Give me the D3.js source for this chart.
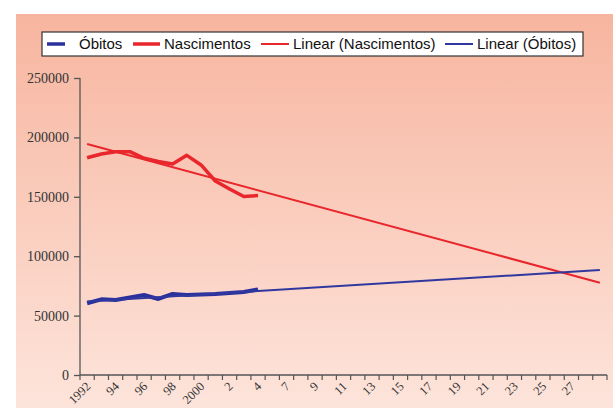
<!DOCTYPE html>
<html>
<head>
<meta charset="utf-8">
<script src="https://cdn.jsdelivr.net/npm/d3@7"></script>
<style>
  body { margin: 0; background: #fff; }
  svg { display: block; }
</style>
</head>
<body>
<svg width="613" height="408"></svg>
<script>
// categories on the x axis (the source table skips 2006)
const categories = ["1992","1993","1994","1995","1996","1997","1998","1999","2000","2001","2002","2003","2004","2005",
  "2007","2008","2009","2010","2011","2012","2013","2014","2015","2016","2017","2018","2019","2020",
  "2021","2022","2023","2024","2025","2026","2027","2028","2029"];
const tickLabels = ["1992","94","96","98","2000","2","4","7","9","11","13","15","17","19","21","23","25","27"];

const obitos = [60400, 63700, 63100, 65200, 67300, 64000, 68200, 67300, 67800, 68200, 69000, 69900, 72100];
const nascimentos = [182900, 186000, 188000, 188000, 182400, 179700, 177600, 184900, 176800, 163300, 156600, 150300, 151000];
// trend lines, start and end values
const trendNasc = [194400, 77700];
const trendObitos = [61800, 88400];

const yTicks = [0, 50000, 100000, 150000, 200000, 250000];

const svg = d3.select("svg");
const plotLeft = 80, plotRight = 607, plotTop = 78, plotBottom = 375;

const defs = svg.append("defs");
const grad = defs.append("linearGradient").attr("id", "bg").attr("x1", 0).attr("y1", 0).attr("x2", 0).attr("y2", 1);
grad.append("stop").attr("offset", "0%").attr("stop-color", "#f7b59f");
grad.append("stop").attr("offset", "100%").attr("stop-color", "#fde4db");

svg.append("rect").attr("x", 16).attr("y", 14).attr("width", 613 - 16).attr("height", 408 - 14).attr("fill", "url(#bg)");

const x = d3.scaleBand().domain(categories).range([plotLeft, plotRight]).padding(0);
const y = d3.scaleLinear().domain([0, 250000]).range([plotBottom, plotTop]);
const cx = i => x(categories[i]) + x.bandwidth() / 2;

// y axis
const yAxis = svg.append("g").attr("transform", `translate(${plotLeft},0)`)
  .call(d3.axisLeft(y).tickValues(yTicks).tickFormat(d3.format("d")).tickSize(6).tickPadding(5));
yAxis.select(".domain").attr("d", `M0,${plotTop}V${plotBottom}`);
yAxis.selectAll("line, path").attr("stroke", "#555").attr("stroke-width", 1.3);
yAxis.selectAll("text").attr("font-family", "'Liberation Serif', 'Times New Roman', serif")
  .attr("font-size", 14).attr("fill", "#333");

// x axis: ticks between categories
const xg = svg.append("g");
xg.append("line").attr("x1", plotLeft).attr("x2", plotRight).attr("y1", plotBottom).attr("y2", plotBottom)
  .attr("stroke", "#555").attr("stroke-width", 1.3);
xg.selectAll(".tk").data(d3.range(categories.length + 1)).join("line")
  .attr("x1", k => plotLeft + k * x.step()).attr("x2", k => plotLeft + k * x.step())
  .attr("y1", plotBottom).attr("y2", plotBottom + 5).attr("stroke", "#555").attr("stroke-width", 1.2);
xg.selectAll(".lb").data(tickLabels).join("text")
  .attr("transform", (d, i) => `translate(${cx(i * 2) - 2},${plotBottom + 6}) rotate(-45)`)
  .attr("text-anchor", "end").attr("dy", "0.7em")
  .attr("font-family", "'Liberation Serif', 'Times New Roman', serif")
  .attr("font-size", 12.5).attr("fill", "#333")
  .text(d => d);

const line = d3.line().x((d, i) => cx(i)).y(d => y(d));
const trendLine = (vals) => d3.line().x((d, i) => cx(i === 0 ? 0 : categories.length - 1)).y(d => y(d))(vals);

const blue = "#2b319b", red = "#e8262b";

svg.append("path").attr("d", trendLine(trendNasc)).attr("fill", "none").attr("stroke", red).attr("stroke-width", 2);
svg.append("path").attr("d", line(nascimentos)).attr("fill", "none").attr("stroke", red)
  .attr("stroke-width", 3.5).attr("stroke-linejoin", "round");
svg.append("path").attr("d", line(obitos)).attr("fill", "none").attr("stroke", blue)
  .attr("stroke-width", 4).attr("stroke-linejoin", "round");
svg.append("path").attr("d", trendLine(trendObitos)).attr("fill", "none").attr("stroke", "#3038a0").attr("stroke-width", 2);

// legend
const legend = svg.append("g");
legend.append("rect").attr("x", 42).attr("y", 32).attr("width", 541).attr("height", 24)
  .attr("fill", "#fff").attr("stroke", "#333").attr("stroke-width", 1.2);
const legendItems = [
  { name: "Óbitos", color: blue, w: 3.5, x1: 47, x2: 65, tx: 79 },
  { name: "Nascimentos", color: red, w: 3.5, x1: 133, x2: 160, tx: 164 },
  { name: "Linear (Nascimentos)", color: red, w: 2, x1: 261, x2: 289, tx: 293 },
  { name: "Linear (Óbitos)", color: "#3038a0", w: 2, x1: 445, x2: 473, tx: 477 }
];
legendItems.forEach(it => {
  legend.append("line").attr("x1", it.x1).attr("x2", it.x2).attr("y1", 44).attr("y2", 44)
    .attr("stroke", it.color).attr("stroke-width", it.w);
  legend.append("text").attr("x", it.tx).attr("y", 44).attr("dy", "0.36em")
    .attr("font-family", "'Liberation Sans', Arial, sans-serif")
    .attr("font-size", 15).attr("fill", "#111").text(it.name);
});
</script>
</body>
</html>
